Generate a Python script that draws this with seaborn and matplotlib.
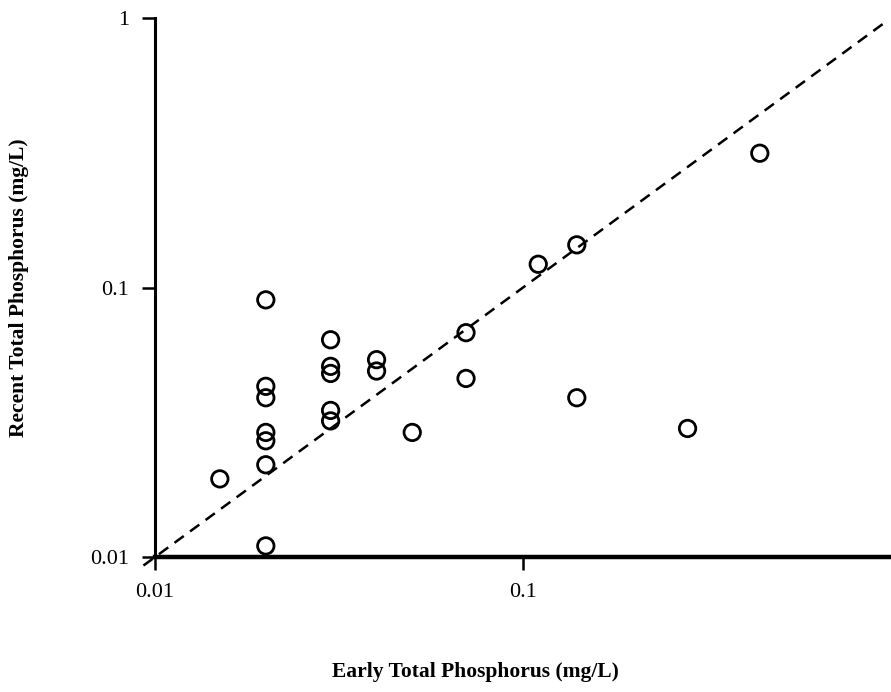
import numpy as np
import pandas as pd
import seaborn as sns
import matplotlib.pyplot as plt

# early vs recent total phosphorus (mg/L)
early_tp = [0.015, 0.02, 0.02, 0.02, 0.02, 0.02, 0.02, 0.02,
            0.03, 0.03, 0.03, 0.03, 0.03, 0.04, 0.04, 0.05,
            0.07, 0.07, 0.11, 0.14, 0.14, 0.28, 0.44]
recent_tp = [0.0195, 0.09, 0.043, 0.039, 0.029, 0.027, 0.022, 0.011,
             0.064, 0.051, 0.048, 0.035, 0.032, 0.054, 0.049, 0.029,
             0.068, 0.046, 0.122, 0.144, 0.039, 0.030, 0.315]
line_ends = [0.0093, 0.95]

x_ticks = [0.01, 0.1]
x_tick_labels = ['0.01', '0.1']
y_ticks = [0.01, 0.1, 1]
y_tick_labels = ['0.01', '0.1', '1']

df = pd.DataFrame({'early': early_tp, 'recent': recent_tp})

sns.set_style('ticks')
plt.rcParams['font.family'] = ['Liberation Serif', 'DejaVu Serif']
plt.rcParams['axes.edgecolor'] = 'black'
plt.rcParams['text.color'] = 'black'
plt.rcParams['axes.labelcolor'] = 'black'

fig = plt.figure(figsize=(8.91, 6.92), dpi=100)
ax = fig.add_axes([0.174, 0.195, 0.826, 0.779])

ax.set_xscale('log')
ax.set_yscale('log')

# 1:1 line
ax.plot(line_ends, line_ends, color='black', lw=1.8,
        linestyle=(0, (4.6, 3.1)), clip_on=False, zorder=2)

sns.scatterplot(data=df, x='early', y='recent', ax=ax, marker='o',
                s=140, facecolor='none', edgecolor='black', linewidth=2.0,
                zorder=3, clip_on=False)

ax.set_xlim(0.01, 1.0)
ax.set_ylim(0.01, 1)
ax.set_xticks(x_ticks)
ax.set_xticklabels(x_tick_labels)
ax.set_yticks(y_ticks)
ax.set_yticklabels(y_tick_labels)
ax.minorticks_off()

ax.tick_params(axis='both', labelsize=16, length=9.5, width=1.8,
               colors='black', labelcolor='black')
ax.tick_params(axis='x', pad=9)
ax.tick_params(axis='y', pad=9)

sns.despine(ax=ax)
for side in ['left', 'bottom']:
    ax.spines[side].set_color('black')
ax.spines['left'].set_linewidth(2.2)
ax.spines['bottom'].set_linewidth(3.2)

ax.set_xlabel('Early Total Phosphorus (mg/L)', fontsize=15.5,
              fontweight='bold', color='black')
ax.set_ylabel('Recent Total Phosphorus (mg/L)', fontsize=15.5,
              fontweight='bold', color='black')
ax.xaxis.set_label_coords(0.435, -0.195)
ax.yaxis.set_label_coords(-0.171, 0.5)

fig.savefig('out.png', dpi=100)
